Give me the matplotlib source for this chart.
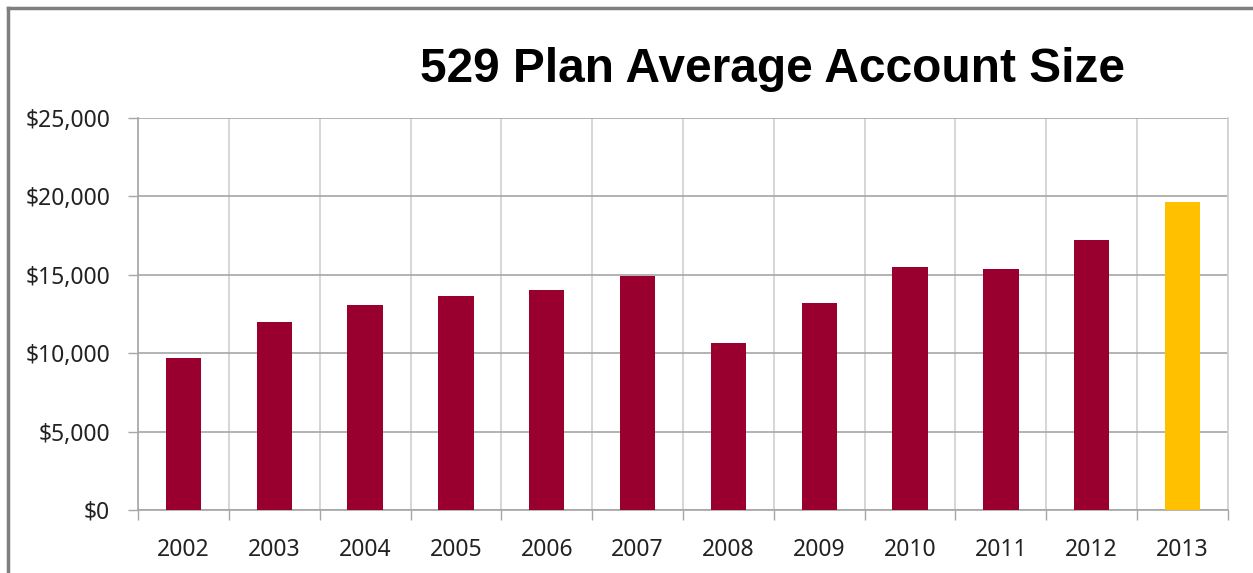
import matplotlib
matplotlib.use("Agg")
import matplotlib.pyplot as plt
import numpy as np
from matplotlib.lines import Line2D
from matplotlib.ticker import FuncFormatter

years = ['2002', '2003', '2004', '2005', '2006', '2007',
         '2008', '2009', '2010', '2011', '2012', '2013']
avg_account = [9700, 12000, 13050, 13650, 14000, 14900,
               10650, 13200, 15500, 15380, 17200, 19650]
bar_colors = ['#990030'] * 11 + ['#FFC000']

fig = plt.figure(figsize=(12.53, 5.73), dpi=100)
ax = fig.add_axes([138 / 1253, 63 / 573, 1090 / 1253, 392 / 573])

ind = np.arange(len(years))
ax.bar(ind, avg_account, width=0.39, color=bar_colors, zorder=3)

ax.set_xlim(-0.5, len(years) - 0.5)
ax.set_ylim(0, 25000)
ax.set_yticks(np.arange(0, 25001, 5000))
ax.yaxis.set_major_formatter(FuncFormatter(lambda v, p: f"${v:,.0f}"))

# category labels centred, ticks/gridlines at the boundaries (Excel style)
ax.set_xticks(ind)
ax.set_xticklabels(years)
ax.set_xticks(np.arange(-0.5, len(years)), minor=True)
ax.tick_params(axis='x', which='major', length=0, pad=20, labelsize=16.5, labelcolor='#222222')
ax.tick_params(axis='x', which='minor', length=7, width=1, color='#a6a6a6', direction='out')
ax.tick_params(axis='y', length=7, width=1, color='#a6a6a6', pad=13, labelsize=16.5, labelcolor='#222222')
for lab in ax.get_xticklabels() + ax.get_yticklabels():
    lab.set_family('Noto Sans')

ax.grid(axis='x', which='minor', color='#d0d0d0', linewidth=1.2, zorder=0)
ax.grid(axis='y', which='major', color='#a6a6a6', linewidth=1.2, zorder=0)
ax.spines['top'].set_visible(False)
ax.spines['right'].set_color('#d0d0d0')
ax.spines['right'].set_linewidth(1.2)
ax.spines['left'].set_color('#a6a6a6')
ax.spines['bottom'].set_color('#a6a6a6')
ax.spines['left'].set_linewidth(1.2)
ax.spines['bottom'].set_linewidth(1.2)

fig.text(772 / 1253, (573 - 82) / 573, "529 Plan Average Account Size",
         ha='center', va='baseline', fontsize=34.5, fontweight='bold',
         family='Liberation Sans')

# outer chart border (left and top edges visible)
fig.add_artist(Line2D([8 / 1253, 8 / 1253], [0, 1 - 8 / 573],
                      transform=fig.transFigure, color='#7f7f7f', linewidth=2.5))
fig.add_artist(Line2D([8 / 1253, 1], [1 - 8 / 573, 1 - 8 / 573],
                      transform=fig.transFigure, color='#7f7f7f', linewidth=2.5))

fig.savefig("out.png", dpi=100)
